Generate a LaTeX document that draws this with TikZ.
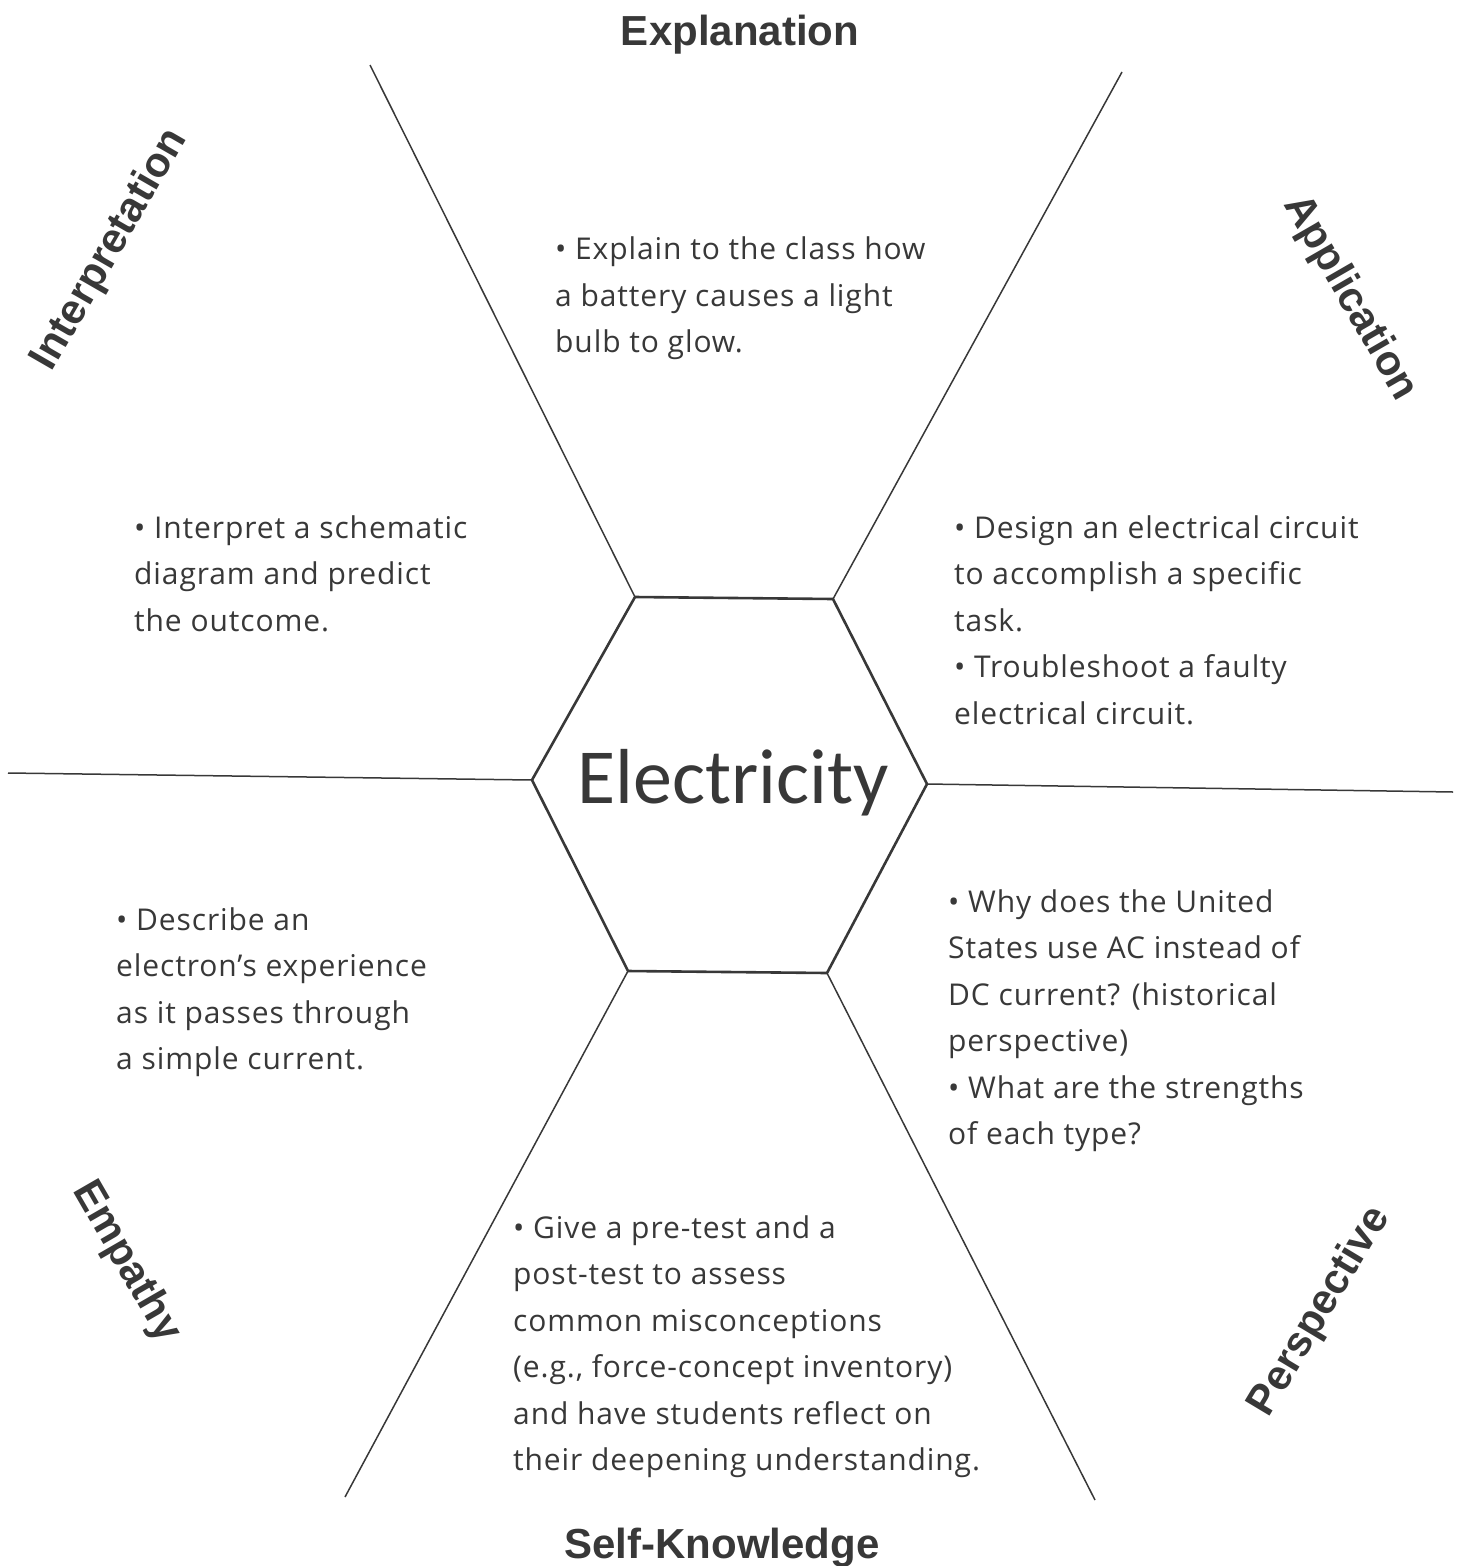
\documentclass[tikz,border=0pt]{standalone}
\usepackage{fontspec}
\setmainfont{Open Sans}[Ligatures=NoCommon, LetterSpace=3]
\newfontfamily\facetfont{Liberation Sans}
\newfontfamily\topicfont{Carlito}
\usepackage{tikz}

\definecolor{inkgray}{HTML}{383838}

\begin{document}
\begin{tikzpicture}[x=1pt,y=-1pt]
\tikzstyle{every node}=[text=inkgray]
\tikzstyle{facet}=[font=\facetfont\bfseries\fontsize{42}{48}\selectfont]
\tikzstyle{note}=[anchor=north west, align=left, inner sep=0pt, font=\fontsize{30}{46.5}\selectfont]

\useasboundingbox (0,0) rectangle (1460,1566);

\coordinate (HexTopLeft) at (635,597);
\coordinate (HexTopRight) at (833,599);
\coordinate (HexRight) at (927,784);
\coordinate (HexBottomRight) at (827,973);
\coordinate (HexBottomLeft) at (628,971);
\coordinate (HexLeft) at (532,780);

\coordinate (TopLeftEnd) at (370,65);
\coordinate (TopRightEnd) at (1122,72);
\coordinate (RightEnd) at (1453,792);
\coordinate (LeftEnd) at (8,773);
\coordinate (BottomRightEnd) at (1095,1500);
\coordinate (BottomLeftEnd) at (345,1497);

% spokes
\draw[inkgray, line width=1.5pt] (HexTopLeft) -- (TopLeftEnd);
\draw[inkgray, line width=1.5pt] (HexTopRight) -- (TopRightEnd);
\draw[inkgray, line width=1.5pt] (HexRight) -- (RightEnd);
\draw[inkgray, line width=1.5pt] (HexLeft) -- (LeftEnd);
\draw[inkgray, line width=1.5pt] (HexBottomRight) -- (BottomRightEnd);
\draw[inkgray, line width=1.5pt] (HexBottomLeft) -- (BottomLeftEnd);

% centre
\draw[inkgray, line width=2.6pt, line join=round] (HexTopLeft) -- (HexTopRight) -- (HexRight)
  -- (HexBottomRight) -- (HexBottomLeft) -- (HexLeft) -- cycle;
\node (Topic) [anchor=base, font=\topicfont\fontsize{78}{90}\selectfont] at (733,803) {Electricity};

% facet names
\node (Explanation) [facet, anchor=base] at (740,45) {Explanation};
\node (Application) [facet, rotate=-60] at (1350,298) {Application};
\node (Interpretation) [facet, rotate=60] at (110,250) {Interpretation};
\node (Empathy) [facet, rotate=-60] at (126,1262) {Empathy};
\node (Perspective) [facet, rotate=59] at (1320,1312) {Perspective};
\node (SelfKnowledge) [facet, anchor=base] at (722,1558) {Self-Knowledge};

% activities
\node (ExplanationText) [note] at (555,237) {\textbullet{} Explain to the class how\\
  a battery causes a light\\ bulb to glow.};
\node (InterpretationText) [note] at (134,515) {\textbullet{} Interpret a schematic\\
  diagram and predict\\ the outcome.};
\node (ApplicationText) [note] at (954,515) {\textbullet{} Design an electrical circuit\\
  to accomplish a specific\\ task.\\ \textbullet{} Troubleshoot a faulty\\ electrical circuit.};
\node (EmpathyText) [note] at (116,907) {\textbullet{} Describe an\\ electron's experience\\
  as it passes through\\ a simple current.};
\node (PerspectiveText) [note] at (948,889) {\textbullet{} Why does the United\\
  States use AC instead of\\ DC current? (historical\\ perspective)\\
  \textbullet{} What are the strengths\\ of each type?};
\node (SelfKnowledgeText) [note] at (513,1215) {\textbullet{} Give a pre-test and a\\
  post-test to assess\\ common misconceptions\\ (e.g., force-concept inventory)\\
  and have students reflect on\\ their deepening understanding.};
\end{tikzpicture}
\end{document}
